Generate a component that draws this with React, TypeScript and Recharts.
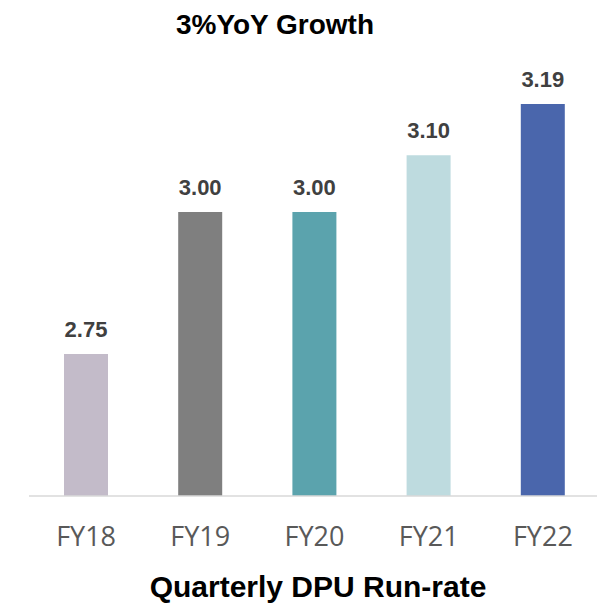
import React from "react";
import { BarChart, Bar, XAxis, YAxis, Cell, LabelList } from "recharts";

const categories = ["FY18", "FY19", "FY20", "FY21", "FY22"];
const dpuValues = [2.75, 3.0, 3.0, 3.1, 3.19];
const titleText = "3%YoY Growth";
const xAxisTitle = "Quarterly DPU Run-rate";

const BAR_COLORS = ["#C3BBC9", "#7F7F7F", "#5BA3AD", "#BEDBDF", "#4A66AC"];

const data = categories.map((c, i) => ({ name: c, value: dpuValues[i] }));

export default function App() {
  return (
    <div
      style={{
        position: "absolute",
        left: 0,
        top: 0,
        width: 597,
        height: 606,
        overflow: "hidden",
        background: "#fff",
      }}
    >
      <BarChart
        width={600}
        height={606}
        data={data}
        margin={{ top: 70, right: 0, bottom: 70, left: 29 }}
      >
        <YAxis hide domain={[2.5, 3.25]} allowDataOverflow />
        <XAxis
          dataKey="name"
          height={40}
          axisLine={{ stroke: "#D9D9D9", strokeWidth: 1.5 }}
          tickLine={false}
          tickSize={0}
          tickMargin={31}
          tick={{ fill: "#595959", fontSize: 27, fontFamily: "Open Sans" }}
          interval={0}
        />
        <Bar dataKey="value" barSize={44} isAnimationActive={false}>
          {data.map((d, i) => (
            <Cell key={d.name} fill={BAR_COLORS[i]} />
          ))}
          <LabelList
            dataKey="value"
            position="top"
            offset={17}
            formatter={(v: any) => Number(v).toFixed(2)}
            style={{
              fill: "#404040",
              fontSize: 22,
              fontWeight: "bold",
              fontFamily: "Liberation Sans, Arial, sans-serif",
            }}
          />
        </Bar>
      </BarChart>
      <svg
        width={597}
        height={606}
        style={{ position: "absolute", left: 0, top: 0, pointerEvents: "none" }}
      >
        <text
          x={275}
          y={34}
          textAnchor="middle"
          fontFamily="Liberation Sans, Arial, sans-serif"
          fontWeight="bold"
          fontSize={28}
          fill="#000"
        >
          {titleText}
        </text>
        <text
          x={318}
          y={597}
          textAnchor="middle"
          fontFamily="Liberation Sans, Arial, sans-serif"
          fontWeight="bold"
          fontSize={30}
          fill="#000"
        >
          {xAxisTitle}
        </text>
      </svg>
    </div>
  );
}
